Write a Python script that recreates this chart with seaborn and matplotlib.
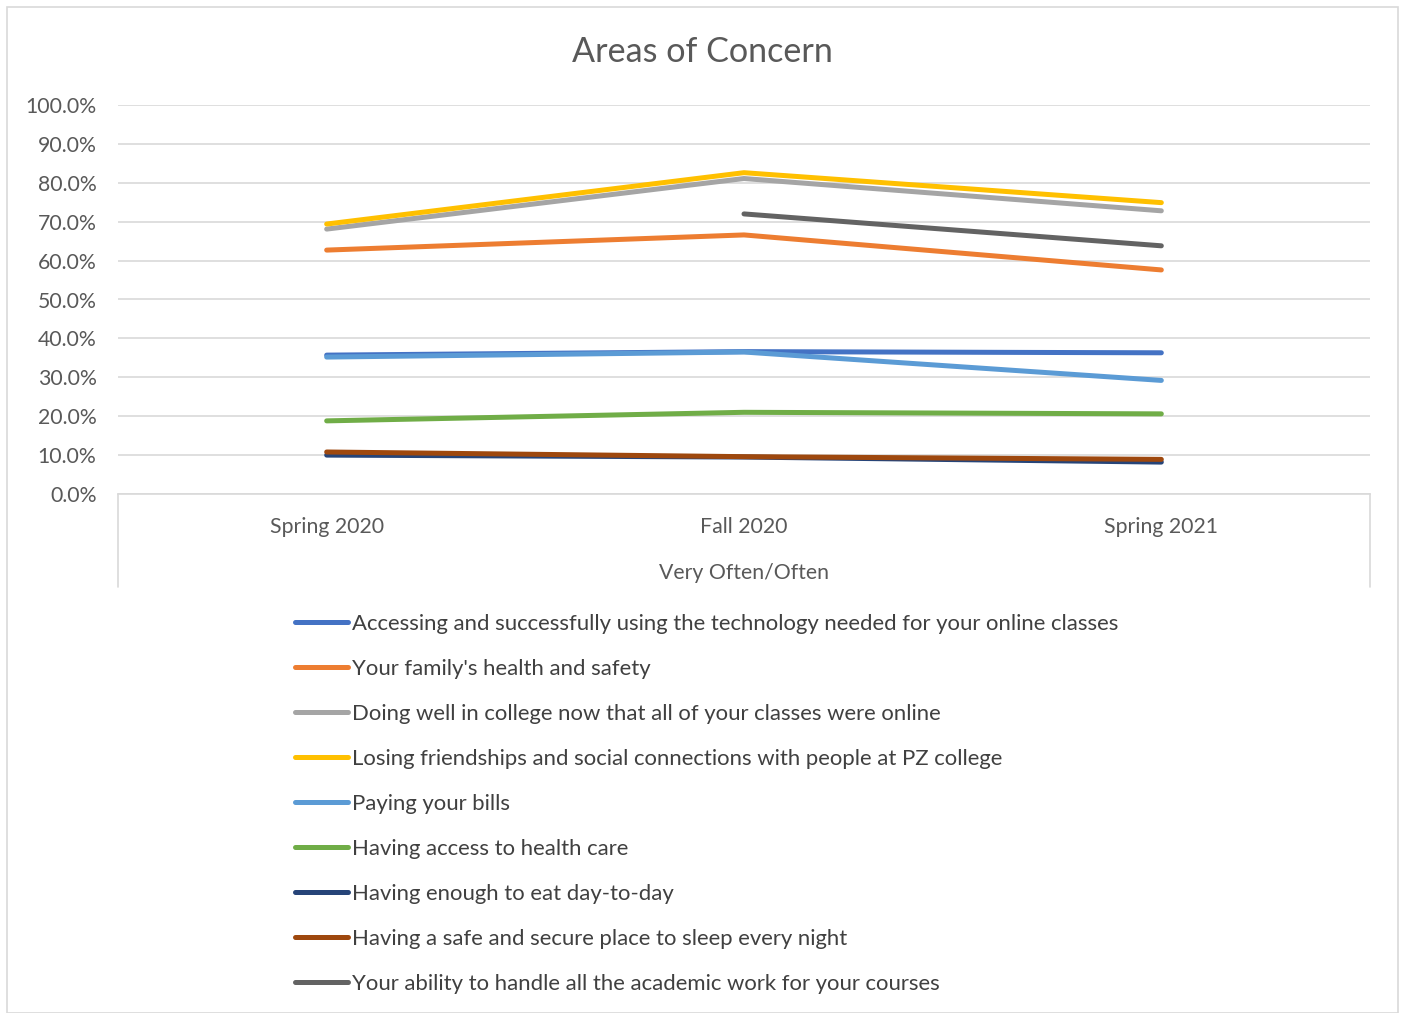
import matplotlib
matplotlib.use("Agg")
import matplotlib.pyplot as plt
import matplotlib.ticker as mticker
from matplotlib.patches import Rectangle
import seaborn as sns
import pandas as pd
import numpy as np

# Survey waves
terms = ["Spring 2020", "Fall 2020", "Spring 2021"]

# Share answering "Very Often/Often" (%)
technology = [35.7, 36.6, 36.3]
family_health = [62.7, 66.6, 57.6]
doing_well_online = [68.1, 81.1, 72.8]
losing_friendships = [69.4, 82.6, 74.9]
paying_bills = [35.2, 36.5, 29.2]
health_care = [18.8, 21.0, 20.6]
enough_to_eat = [10.0, 9.5, 8.2]
safe_place_to_sleep = [10.8, 9.6, 8.9]
academic_work = [np.nan, 72.0, 63.8]

labels = [
    "Accessing and successfully using the technology needed for your online classes",
    "Your family's health and safety",
    "Doing well in college now that all of your classes were online",
    "Losing friendships and social connections with people at PZ college",
    "Paying your bills",
    "Having access to health care",
    "Having enough to eat day-to-day",
    "Having a safe and secure place to sleep every night",
    "Your ability to handle all the academic work for your courses",
]
series = [technology, family_health, doing_well_online, losing_friendships,
          paying_bills, health_care, enough_to_eat, safe_place_to_sleep,
          academic_work]
colors = ["#4472C4", "#ED7D31", "#A5A5A5", "#FFC000", "#5B9BD5",
          "#70AD47", "#264478", "#9E480E", "#636363"]

rows = []
for lab, vals in zip(labels, series):
    for t, v in zip(terms, vals):
        rows.append({"Term": t, "Value": v, "Concern": lab})
df = pd.DataFrame(rows)

sns.set_theme(style="white")
plt.rcParams["font.family"] = ["Lato", "DejaVu Sans"]

fig = plt.figure(figsize=(14.03, 10.13), dpi=100)
ax = fig.add_axes([118 / 1403, 1 - 494 / 1013, (1370 - 118) / 1403, (494 - 105) / 1013])

sns.lineplot(data=df, x="Term", y="Value", hue="Concern", hue_order=labels,
             palette=colors, linewidth=3.6, solid_capstyle="round", ax=ax,
             legend=False)

ax.set_xlim(-0.5, 2.5)
ax.set_ylim(0, 100)
ax.yaxis.set_major_locator(mticker.MultipleLocator(10))
ax.yaxis.set_major_formatter(mticker.FuncFormatter(lambda v, p: f"{v:.1f}%"))
ax.grid(axis="y", color="#D9D9D9", linewidth=1.2)
ax.set_axisbelow(True)
for s in ["left", "right", "top"]:
    ax.spines[s].set_visible(False)
ax.spines["bottom"].set_color("#D9D9D9")
ax.spines["bottom"].set_linewidth(1.2)
ax.tick_params(axis="both", length=0, labelsize=15.3, colors="#595959")
ax.tick_params(axis="x", pad=16.5)
ax.tick_params(axis="y", pad=15.5)
for lbl in ax.get_yticklabels():
    lbl.set_horizontalalignment("right")
ax.set_xlabel("Very Often/Often", fontsize=15.3, color="#595959", labelpad=18.5)
ax.set_ylabel("")

# Category axis box edges
box_depth = (587 - 494) / (494 - 105)
for xe in (0, 1):
    ax.plot([xe, xe], [0, -box_depth], transform=ax.transAxes, color="#D9D9D9",
            linewidth=1.2, clip_on=False)

fig.suptitle("Areas of Concern", x=702 / 1403, y=1 - 52 / 1013, va="center",
             fontsize=24.6, color="#595959")

handles = [plt.Line2D([], [], color=c, linewidth=3.6, solid_capstyle="round")
           for c in colors]
fig.legend(handles, labels, loc="upper left",
           bbox_to_anchor=(295 / 1403, 1 - 614 / 1013), frameon=False,
           fontsize=15.9, handlelength=2.4, handletextpad=0.18,
           labelspacing=1.13, labelcolor="#404040", borderaxespad=0,
           borderpad=0)

fig.patches.append(Rectangle((7 / 1403, 0), (1398 - 7) / 1403, 1 - 7 / 1013,
                             transform=fig.transFigure, fill=False,
                             edgecolor="#D9D9D9", linewidth=1.2))

fig.savefig("out.png", dpi=100)
